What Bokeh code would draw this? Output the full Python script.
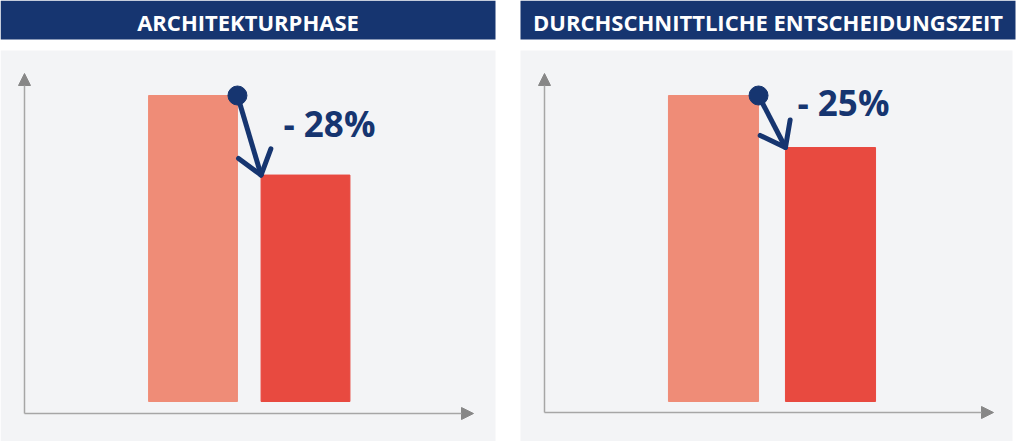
import numpy as np
from bokeh.plotting import figure
from bokeh.models import ColumnDataSource, Range1d, Arrow, NormalHead, Label
from bokeh.layouts import row
from bokeh.embed import file_html
from bokeh.resources import INLINE


# Chart values
titles = ["ARCHITEKTURPHASE", "DURCHSCHNITTLICHE ENTSCHEIDUNGSZEIT"]
stages = ["vorher", "nachher"]
before = [100, 100]
after = [74, 83]
change_labels = ["- 28%", "- 25%"]

# Colours
NAVY = "#163570"
BAR_COLORS = ["#ef8c77", "#e84a40"]
PANEL_BG = "#f3f4f6"
AXIS_COLOR = "#a6a6a6"
AXIS_HEAD = "#878787"
FONT = "Open Sans"

# Layout (image pixels of the 1024x441 picture)
FIG_H = 441
BASE_PX = 401        # row where the bars start
PX_PER_UNIT = 3.06   # 100 units = 306 px
HEADER = (0, 39)
PANEL_Y = (50, 441)
AXIS_TOP = 73
WING_LEN = 28        # px, arrow head wing length
WING_ANGLE = 37      # degrees from the shaft

PANELS = [
    dict(fig_left=0, fig_width=507, header_x=(0, 495), box_x=(0, 495),
         bar0=192.5, pitch=112.5, bar_w=0.79, axis_x=24, axis_y=413,
         x_tip=473, label_x=283, label_y=123),
    dict(fig_left=507, fig_width=517, header_x=(520, 1015), box_x=(520, 1012),
         bar0=713, pitch=117, bar_w=0.77, axis_x=544, axis_y=412,
         x_tip=993, label_x=797, label_y=102),
]


def y_of(py):
    return (BASE_PX - py) / PX_PER_UNIT


def panel_figure(i):
    g = PANELS[i]

    def x_of(px):
        return (px - g["bar0"]) / g["pitch"]

    p = figure(
        width=g["fig_width"], height=FIG_H,
        x_range=Range1d(x_of(g["fig_left"]), x_of(g["fig_left"] + g["fig_width"])),
        y_range=Range1d(y_of(FIG_H), y_of(0)),
        x_axis_location=None, y_axis_location=None,
        toolbar_location=None, output_backend="svg",
        min_border=0, outline_line_color=None,
        background_fill_color="white", border_fill_color="white",
    )
    p.xgrid.grid_line_color = None
    p.ygrid.grid_line_color = None

    # header bar and grey panel
    p.quad(left=[x_of(g["header_x"][0])], right=[x_of(g["header_x"][1])],
           bottom=[y_of(HEADER[1])], top=[y_of(HEADER[0])],
           fill_color=NAVY, line_color=None)
    p.add_layout(Label(
        x=x_of(sum(g["header_x"]) / 2), y=y_of(21), text=titles[i],
        text_font=FONT, text_font_style="bold", text_font_size="22px",
        text_color="white", text_align="center", text_baseline="middle",
    ))
    p.quad(left=[x_of(g["box_x"][0])], right=[x_of(g["box_x"][1])],
           bottom=[y_of(PANEL_Y[1])], top=[y_of(PANEL_Y[0])],
           fill_color=PANEL_BG, line_color=None)

    # axes with arrow heads
    ax, ay = x_of(g["axis_x"]), y_of(g["axis_y"])
    for xe, ye in [(ax, y_of(AXIS_TOP)), (x_of(g["x_tip"]), ay)]:
        p.add_layout(Arrow(
            x_start=ax, y_start=ay, x_end=xe, y_end=ye,
            line_color=AXIS_COLOR, line_width=1.5,
            end=NormalHead(size=12, fill_color=AXIS_HEAD, line_color=AXIS_HEAD),
        ))

    # bars
    source = ColumnDataSource(data=dict(
        x=[0, 1], top=[before[i], after[i]], stage=stages, color=BAR_COLORS,
    ))
    p.vbar(x="x", top="top", bottom=0, width=g["bar_w"], color="color",
           source=source)

    # change arrow from top-right of first bar to top-left of second bar
    w = g["bar_w"] / 2
    x0, y0, x1, y1 = w, before[i], 1 - w, after[i]
    p.line([x0, x1], [y0, y1], line_color=NAVY, line_width=5)

    # open arrow head, built in pixel space so the angle is true on screen
    sx = np.array([x0, x1]) * g["pitch"]
    sy = -np.array([y0, y1]) * PX_PER_UNIT
    back = np.arctan2(sy[0] - sy[1], sx[0] - sx[1])
    for sign in (-1, 1):
        a = back + sign * np.radians(WING_ANGLE)
        wx = x1 + WING_LEN * np.cos(a) / g["pitch"]
        wy = y1 - WING_LEN * np.sin(a) / PX_PER_UNIT
        p.segment(x0=[x1], y0=[y1], x1=[wx], y1=[wy], line_color=NAVY,
                  line_width=5, line_cap="round")
    p.scatter([x0], [y0], size=19, color=NAVY)

    p.add_layout(Label(
        x=x_of(g["label_x"]), y=y_of(g["label_y"]), text=change_labels[i],
        text_font=FONT, text_font_style="bold", text_font_size="35px",
        text_color=NAVY, text_align="left", text_baseline="middle",
    ))
    return p


layout = row(panel_figure(0), panel_figure(1))

open("out.html", "w").write(file_html(layout, INLINE))
